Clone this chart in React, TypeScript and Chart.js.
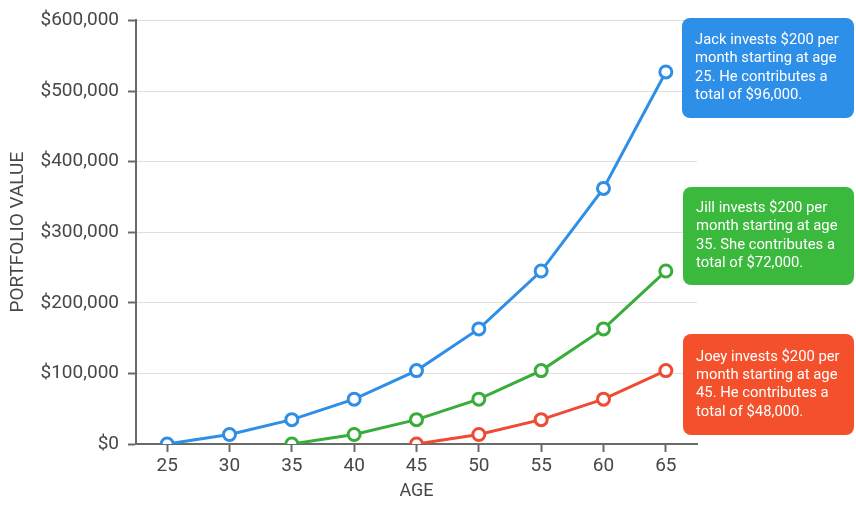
import React, { useEffect, useRef } from "react";
import { Chart, registerables } from "chart.js";

Chart.register(...registerables);

const ages = ["25", "30", "35", "40", "45", "50", "55", "60", "65"];
const jack = [0, 13500, 34500, 63500, 104000, 163000, 245000, 362000, 527000];
const jill = [null, null, 0, 13500, 34500, 63500, 104000, 163000, 245000];
const joey = [null, null, null, null, 0, 13500, 34500, 63500, 104000];

const notes = [
  { lines: ["Jack invests $200 per", "month starting at age", "25. He contributes a", "total of $96,000."], color: "#2e8fe9", box: [682, 18, 172, 100] },
  { lines: ["Jill invests $200 per", "month starting at age", "35. She contributes a", "total of $72,000."], color: "#3bb93d", box: [683, 187, 171, 98] },
  { lines: ["Joey invests $200 per", "month starting at age", "45. He contributes a", "total of $48,000."], color: "#f4502b", box: [683, 334, 171, 101] },
];

const FONT = "Roboto, 'Noto Sans', sans-serif";
const TEXT = "#474747";

const notePlugin = {
  id: "notes",
  afterDraw(chart: any) {
    const ctx = chart.ctx;
    ctx.save();
    for (const n of notes) {
      const [x, y, w, h] = n.box;
      ctx.fillStyle = n.color;
      ctx.beginPath();
      (ctx as any).roundRect(x, y, w, h, 8);
      ctx.fill();
      ctx.fillStyle = "#ffffff";
      ctx.font = `14.8px ${FONT}`;
      ctx.textBaseline = "middle";
      ctx.textAlign = "left";
      const lh = 18.4;
      const startY = y + h / 2 - (lh * (n.lines.length - 1)) / 2;
      n.lines.forEach((t, i) => ctx.fillText(t, x + 13, startY + i * lh));
    }
    ctx.restore();
  },
};

function ds(label: string, data: (number | null)[], color: string) {
  return {
    label,
    data,
    borderColor: color,
    backgroundColor: "#ffffff",
    borderWidth: 3,
    pointRadius: 6,
    pointBorderWidth: 3,
    pointBackgroundColor: "#ffffff",
    pointBorderColor: color,
    tension: 0,
    spanGaps: false,
  };
}

export default function App() {
  const ref = useRef<HTMLCanvasElement>(null);
  useEffect(() => {
    const chart = new Chart(ref.current!, {
      type: "line",
      data: {
        labels: ages,
        datasets: [
          ds("Jack", jack, "#2f8ee5"),
          ds("Jill", jill, "#38ad3a"),
          ds("Joey", joey, "#ef4a33"),
        ],
      },
      options: {
        animation: false,
        responsive: false,
        devicePixelRatio: 1,
        layout: { padding: { left: 3, right: 159, top: 16, bottom: 0 } },
        plugins: { legend: { display: false }, tooltip: { enabled: false } },
        scales: {
          x: {
            offset: true,
            grid: { display: true, drawOnChartArea: false, tickColor: "#6a6a6a", tickLength: 8, tickWidth: 2 },
            border: { color: "#6a6a6a", width: 2 },
            ticks: { color: TEXT, font: { family: FONT, size: 19 }, padding: 3 },
            title: { display: true, text: "AGE", color: TEXT, font: { family: FONT, size: 18 }, padding: { top: 2, bottom: 4 } },
            afterFit: (s: any) => { s.height = 62; },
          },
          y: {
            min: 0,
            max: 600000,
            ticks: {
              stepSize: 100000,
              color: TEXT,
              font: { family: FONT, size: 19 },
              padding: 9,
              callback: (v: any) => "$" + Number(v).toLocaleString("en-US"),
            },
            grid: { color: "#e0e0e0", lineWidth: 1, tickColor: "#6a6a6a", tickLength: 8, tickWidth: 2 },
            border: { color: "#6a6a6a", width: 2 },
            title: { display: true, text: "PORTFOLIO VALUE", color: TEXT, font: { family: FONT, size: 19 }, padding: { top: 4, bottom: 4 } },
            afterFit: (s: any) => { s.width = 133; },
          },
        },
      },
      plugins: [notePlugin],
    });
    return () => chart.destroy();
  }, []);
  return (
    <div style={{ position: "fixed", left: 0, top: 0, width: 856, height: 506, background: "#fff" }}>
      <canvas ref={ref} width={856} height={506} />
    </div>
  );
}
